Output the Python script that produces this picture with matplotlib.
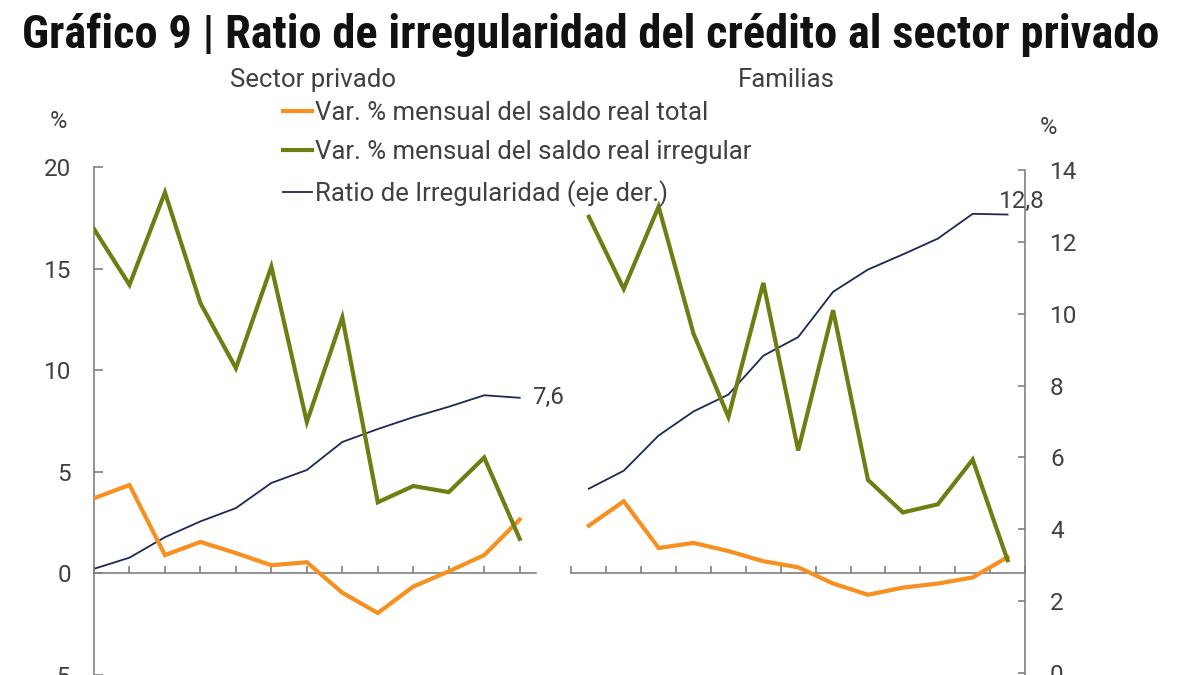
import matplotlib
matplotlib.use("Agg")
import matplotlib.pyplot as plt
import numpy as np

plt.rcParams['font.family'] = ['Roboto', 'DejaVu Sans']
plt.rcParams['axes.unicode_minus'] = False

# ---- data ----
periods = list(range(13))
sp_total = [3.7, 4.35, 0.9, 1.55, 1.0, 0.4, 0.55, -0.95, -1.95, -0.65, 0.1, 0.9, 2.65]
sp_irreg = [16.95, 14.2, 18.75, 13.3, 10.1, 15.1, 7.45, 12.6, 3.5, 4.3, 4.0, 5.7, 1.7]
sp_ratio = [2.9, 3.21, 3.78, 4.22, 4.59, 5.29, 5.65, 6.43, 6.79, 7.12, 7.41, 7.73, 7.66]

fam_total = [2.35, 3.55, 1.25, 1.5, 1.1, 0.6, 0.3, -0.5, -1.05, -0.7, -0.5, -0.2, 0.8]
fam_irreg = [17.55, 14.0, 18.05, 11.8, 7.7, 14.3, 6.05, 12.95, 4.6, 3.0, 3.4, 5.6, 0.65]
fam_ratio = [5.13, 5.63, 6.61, 7.28, 7.75, 8.83, 9.35, 10.61, 11.23, 11.65, 12.09, 12.78, 12.76]

left_ticks = [-5, 0, 5, 10, 15, 20]
right_ticks = [0, 2, 4, 6, 8, 10, 12, 14]

labels = ["Var. % mensual del saldo real total",
          "Var. % mensual del saldo real irregular",
          "Ratio de Irregularidad (eje der.)"]
title = "Gráfico 9 | Ratio de irregularidad del crédito al sector privado"
sub_left = "Sector privado"
sub_right = "Familias"
lbl_sp = "7,6"
lbl_fam = "12,8"

C_OR = '#F7901E'
C_GR = '#6F7D13'
C_BL = '#1C2857'
C_AX = '#7F7F7F'
C_TX = '#404040'

W, H = 1200, 675
fig = plt.figure(figsize=(12, 6.75), dpi=100)

def fx(px):
    return px / W

def fy(py):
    return 1 - py / H

top, bot = 167, 675
axL = fig.add_axes([fx(94), fy(bot), fx(536 - 94), (bot - top) / H])
axR = fig.add_axes([fx(571.4), fy(bot), fx(1025 - 571.4), (bot - top) / H])
axLt = axL.twinx()
axRt = axR.twinx()

ppu = (673 - 170) / 14.0
r_lo = 0 - (675 - 673) / ppu
r_hi = 14 + (170 - 167) / ppu

for a in (axL, axR):
    a.set_ylim(-5, 20)
    a.patch.set_visible(False)
for a in (axLt, axRt):
    a.set_ylim(r_lo, r_hi)

axL.set_xlim(0, 12.46)
axR.set_xlim(-0.5, 12.5)

lw_thick = 3.0
lw_thin = 1.3

l_bl, = axLt.plot(periods, sp_ratio, color=C_BL, lw=lw_thin, zorder=2)
axRt.plot(periods, fam_ratio, color=C_BL, lw=lw_thin, zorder=2)
l_or, = axL.plot(periods, sp_total, color=C_OR, lw=lw_thick, zorder=3, solid_joinstyle='miter')
l_gr, = axL.plot(periods, sp_irreg, color=C_GR, lw=lw_thick, zorder=3, solid_joinstyle='miter')
axR.plot(periods, fam_total, color=C_OR, lw=lw_thick, zorder=3, solid_joinstyle='miter')
axR.plot(periods, fam_irreg, color=C_GR, lw=lw_thick, zorder=3, solid_joinstyle='miter')

# main axes above twins
for a, t in ((axL, axLt), (axR, axRt)):
    a.set_zorder(t.get_zorder() + 1)

# spines
for a in (axL, axR, axLt, axRt):
    for s in a.spines.values():
        s.set_visible(False)
        s.set_color(C_AX)
        s.set_linewidth(1.2)

axL.spines['left'].set_visible(True)
axL.spines['left'].set_bounds(-5, 20)
axL.spines['bottom'].set_visible(True)
axL.spines['bottom'].set_position(('data', 0))
axR.spines['bottom'].set_visible(True)
axR.spines['bottom'].set_position(('data', 0))
axRt.spines['right'].set_visible(True)
axRt.spines['right'].set_bounds(r_lo, 14)

axL.set_yticks(left_ticks)
axL.set_yticklabels([str(v) for v in left_ticks])
axL.tick_params(axis='y', direction='in', length=6.3, width=1.2, color=C_AX,
                pad=16.5, labelsize=17.5, labelcolor=C_TX)
axL.set_xticks(periods)
axL.tick_params(axis='x', direction='in', length=4.8, width=1.2, color=C_AX,
                labelbottom=False, top=False)

axR.set_yticks([])
axR.set_xticks(np.arange(-0.5, 13, 1.0))
axR.tick_params(axis='x', direction='in', length=4.8, width=1.2, color=C_AX,
                labelbottom=False, top=False)

axLt.set_yticks([])
axLt.tick_params(axis='y', length=0, labelleft=False, labelright=False)
axLt.tick_params(axis='x', bottom=False, top=False, labelbottom=False, labeltop=False)
axRt.tick_params(axis='x', bottom=False, top=False, labelbottom=False, labeltop=False)
axRt.set_yticks(right_ticks)
axRt.set_yticklabels([str(v) for v in right_ticks])
axRt.tick_params(axis='y', direction='in', length=5.2, width=1.2, color=C_AX,
                 pad=18, labelsize=17.5, labelcolor=C_TX)

# end labels
axLt.annotate(lbl_sp, xy=(periods[-1], sp_ratio[-1]), xytext=(8.6, 0),
              textcoords='offset points', ha='left', va='center',
              fontsize=17.5, color=C_TX, annotation_clip=False)
axRt.annotate(lbl_fam, xy=(periods[-1], fam_ratio[-1]), xytext=(-6.5, 9.5),
              textcoords='offset points', ha='left', va='center',
              fontsize=17.5, color=C_TX, annotation_clip=False, zorder=5)

# texts
fig.text(fx(22), fy(35), title, fontsize=33.4, fontweight='bold', color='#111111',
         ha='left', va='center',
         family=['Roboto Condensed', 'Liberation Sans Narrow', 'Roboto', 'DejaVu Sans'])
fig.text(fx(313), fy(80), sub_left, fontsize=18.5, color=C_TX, ha='center', va='center')
fig.text(fx(786), fy(80), sub_right, fontsize=18.5, color=C_TX, ha='center', va='center')
fig.text(fx(58), fy(121), "%", fontsize=17, color=C_TX, ha='center', va='center')
fig.text(fx(1048), fy(128), "%", fontsize=17, color=C_TX, ha='center', va='center')

leg = fig.legend([l_or, l_gr, l_bl], labels, loc='upper left',
                 bbox_to_anchor=(fx(283), fy(101)), frameon=False, fontsize=18.5,
                 handlelength=1.13, handletextpad=0.12, labelspacing=0.6,
                 borderpad=0, borderaxespad=0)
for t in leg.get_texts():
    t.set_color(C_TX)

fig.savefig("out.png", dpi=100)
